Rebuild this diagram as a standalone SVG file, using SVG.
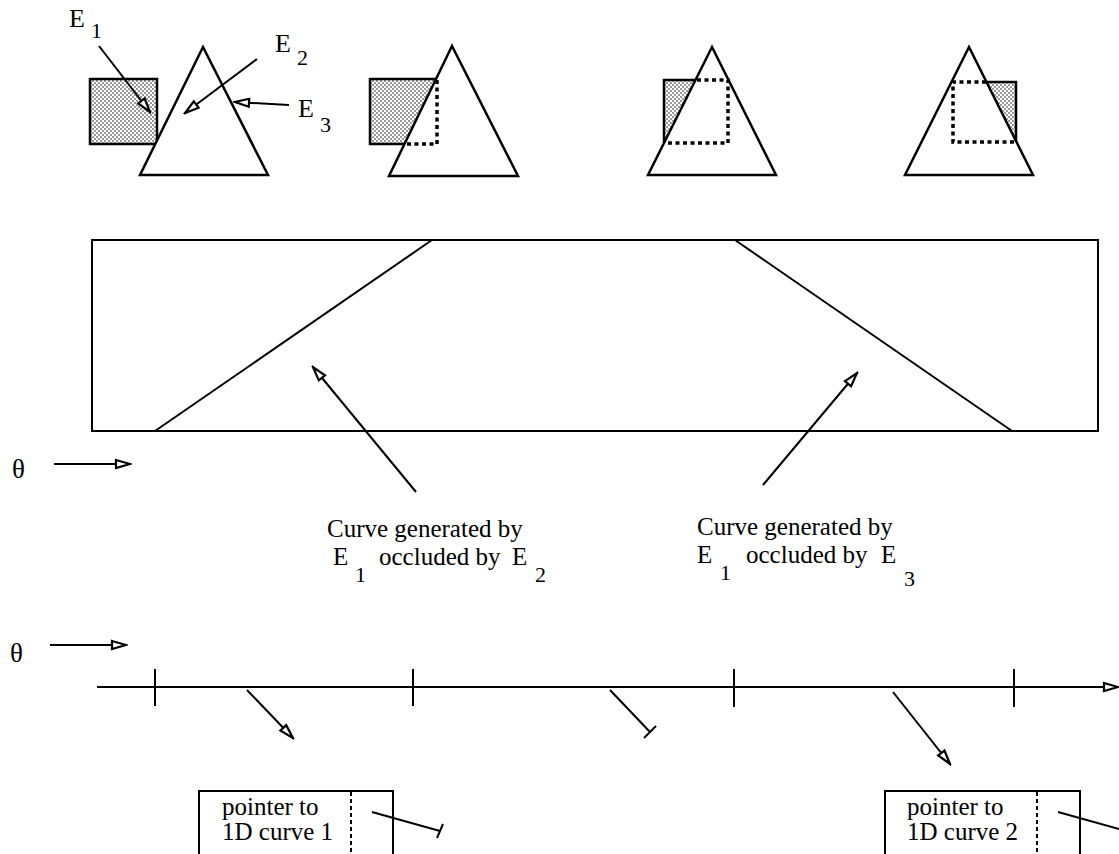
<svg xmlns="http://www.w3.org/2000/svg" width="1119" height="854" viewBox="0 0 1119 854" font-family="'Liberation Serif', 'Times New Roman', serif">
<style>
text{font-family:"Liberation Serif","Times New Roman",serif;fill:#000}
.ln{stroke:#000;stroke-width:2;fill:none}
.sq{fill:url(#stip);stroke:#000;stroke-width:2.5}
.tri{fill:#fff;stroke:#000;stroke-width:2.5;stroke-linejoin:miter}
.dot{stroke:#000;stroke-width:3.5;fill:none;stroke-dasharray:4 3.5}
.dv{stroke:#000;stroke-width:2;fill:none;stroke-dasharray:4 3}
.st{fill:url(#stip);stroke:none}
.big{font-size:25px}
.sub{font-size:22px}
.lab{font-size:26px}
.lsub{font-size:22px}
</style>
<defs>
<pattern id="stip" width="4" height="4" patternUnits="userSpaceOnUse">
<rect width="4" height="4" fill="#fff"/>
<circle cx="1" cy="1" r="0.75" fill="#000"/>
<circle cx="3" cy="3" r="0.75" fill="#000"/>
</pattern>
<marker id="oa" markerWidth="18" markerHeight="12" viewBox="0 0 18 12" refX="16" refY="6" orient="auto" markerUnits="userSpaceOnUse">
<path d="M2,2 L16,6 L2,10 Z" fill="#fff" stroke="#000" stroke-width="2.2"/>
</marker>
</defs>
<rect width="1119" height="854" fill="#fff"/>

<g id="scene1">
<rect class="sq" x="90" y="79" width="67" height="65"/>
<polygon class="tri" points="203,47 140,175 268,175"/>
</g>
<g id="label-E1"><text class="lab" x="69" y="27">E</text><text class="lsub" x="91" y="38">1</text></g>
<g id="label-E2"><text class="lab" x="275" y="52">E</text><text class="lsub" x="297" y="65">2</text></g>
<g id="label-E3"><text class="lab" x="298" y="117">E</text><text class="lsub" x="320" y="132">3</text></g>

<g id="scene2">
<rect class="sq" x="370" y="79" width="67" height="65"/>
<polygon class="tri" points="452,46 389,176 518,176"/>
<path class="dot" d="M437,80 L437,144 L405,144"/>
</g>

<g id="scene3">
<polygon class="st" points="664,80 695.5,80 664,143"/>
<path d="M664,143 L664,80 L696,80" fill="none" stroke="#000" stroke-width="2.5"/>
<polygon class="tri" points="712,47 648,175 776,175" style="fill:none"/>
<path class="dot" d="M697,80 L728,80 L728,143 L665,143"/>
</g>

<g id="scene4">
<polygon class="st" points="986.5,82 1016,82 1016,141"/>
<path d="M986,82 L1016,82 L1016,142" fill="none" stroke="#000" stroke-width="2.5"/>
<polygon class="tri" points="969,47 905,175 1033,175" style="fill:none"/>
<path class="dot" d="M986,82 L953,82 L953,142 L1015,142"/>
</g>

<g id="plot">
<rect x="92" y="240" width="1006" height="191" class="ln"/>
<line class="ln" x1="155" y1="431" x2="432" y2="240"/>
<line class="ln" x1="735" y1="240" x2="1012" y2="431"/>
</g>

<g id="theta1"><text x="12" y="478" font-size="27">θ</text></g>
<g id="theta2"><text x="10" y="662" font-size="27">θ</text></g>

<g id="label-curve1">
<text class="big" x="327" y="537">Curve generated by</text>
<text class="big" x="333" y="565">E</text><text class="sub" x="355" y="582">1</text>
<text class="big" x="379" y="565">occluded by</text>
<text class="big" x="512" y="565">E</text><text class="sub" x="535" y="582">2</text>
</g>
<g id="label-curve2">
<text class="big" x="697" y="535">Curve generated by</text>
<text class="big" x="697" y="563">E</text><text class="sub" x="720" y="580">1</text>
<text class="big" x="746" y="563">occluded by</text>
<text class="big" x="881" y="563">E</text><text class="sub" x="904" y="586">3</text>
</g>

<g id="timeline">
<line class="ln" x1="97" y1="687" x2="1118" y2="687" marker-end="url(#oa)"/>
<line class="ln" x1="155" y1="669" x2="155" y2="706"/>
<line class="ln" x1="413" y1="669" x2="413" y2="706"/>
<line class="ln" x1="734" y1="669" x2="734" y2="707"/>
<line class="ln" x1="1014" y1="669" x2="1014" y2="707"/>
</g>

<g id="box1">
<rect class="ln" x="199" y="791" width="194" height="80"/>
<line class="dv" x1="351" y1="792" x2="351" y2="854"/>
<text class="big" x="222" y="815">pointer to</text>
<text class="big" x="222" y="840">1D curve 1</text>
</g>
<g id="box2">
<rect class="ln" x="885" y="791" width="195" height="80"/>
<line class="dv" x1="1037" y1="792" x2="1037" y2="854"/>
<text class="big" x="907" y="815">pointer to</text>
<text class="big" x="907" y="840">1D curve 2</text>
</g>

<g id="connectors">
<line class="ln" x1="99" y1="46" x2="150" y2="112" marker-end="url(#oa)"/>
<line class="ln" x1="257" y1="59" x2="185" y2="113" marker-end="url(#oa)"/>
<line class="ln" x1="289" y1="105" x2="235" y2="102" marker-end="url(#oa)"/>
<line class="ln" x1="416" y1="492" x2="313" y2="367" marker-end="url(#oa)"/>
<line class="ln" x1="763" y1="485" x2="857" y2="373" marker-end="url(#oa)"/>
<line class="ln" x1="54" y1="464" x2="130" y2="464" marker-end="url(#oa)"/>
<line class="ln" x1="50" y1="645" x2="126" y2="645" marker-end="url(#oa)"/>
<line class="ln" x1="247" y1="690" x2="293" y2="738" marker-end="url(#oa)"/>
<line class="ln" x1="893" y1="692" x2="950" y2="764" marker-end="url(#oa)"/>
<line class="ln" x1="610" y1="690" x2="650" y2="732"/>
<line class="ln" x1="644" y1="738" x2="656" y2="726"/>
<line class="ln" x1="372" y1="812" x2="440" y2="831"/>
<line class="ln" x1="437" y1="838" x2="443" y2="824"/>
<line class="ln" x1="1058" y1="812" x2="1126" y2="831"/>
</g>
</svg>
